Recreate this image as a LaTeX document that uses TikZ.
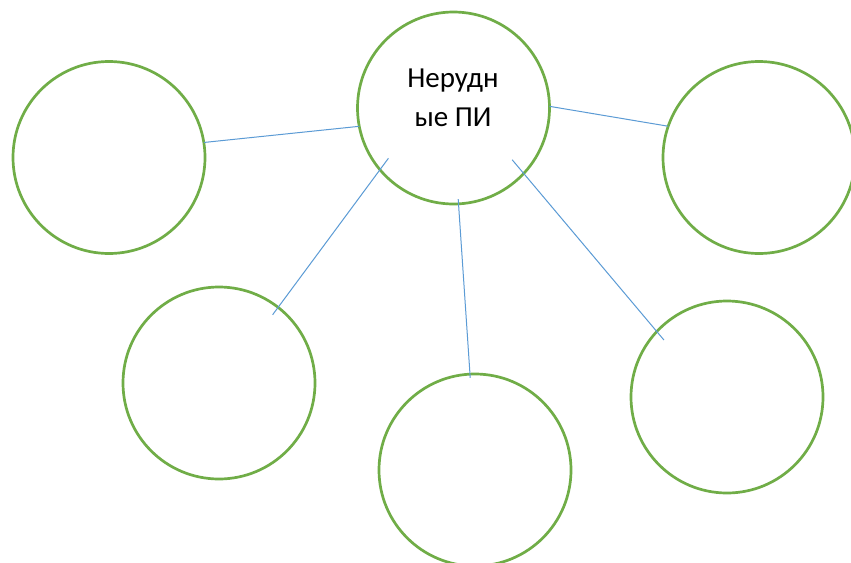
\documentclass[tikz,border=0pt]{standalone}
\usepackage{fontspec}
\setmainfont{Carlito}
\definecolor{cgreen}{HTML}{70AD47}
\definecolor{cblue}{HTML}{5B9BD5}
\tikzset{
  bubble/.style={circle,draw=cgreen,line width=2.7pt,minimum size=192pt,inner sep=0pt,outer sep=0pt},
  link/.style={draw=cblue,line width=1pt},
  title/.style={font=\fontsize{29}{38.7}\selectfont,align=center,inner sep=0pt}
}
\begin{document}
\begin{tikzpicture}[x=1pt,y=-1pt]
\fill[white] (0,0) rectangle (851,562);
\useasboundingbox (0,0) rectangle (851,562);
\node[bubble] (c) at (453.5,108) {};
\node[bubble] (l) at (109,157.5) {};
\node[bubble] (r) at (759,157.5) {};
\node[bubble] (bl) at (219,383) {};
\node[bubble] (bc) at (475,470) {};
\node[bubble] (br) at (727,397) {};
\node[title] (t) at (453,97.5) {Нерудн\\ые ПИ};
\draw[link] (l.9.75) -- (c.191.3);
\draw[link] (c.1.78) -- (r.161.7);
\draw[link,shorten <=-14.2pt,shorten >=-9.2pt] (c.220.46) -- (bl.52.65);
\draw[link,shorten <=-4.8pt,shorten >=-3.8pt] (c.273.45) -- (bc.93.54);
\draw[link,shorten <=-17.9pt,shorten >=-11.1pt] (c.317.57) -- (br.137.74);
\end{tikzpicture}
\end{document}
